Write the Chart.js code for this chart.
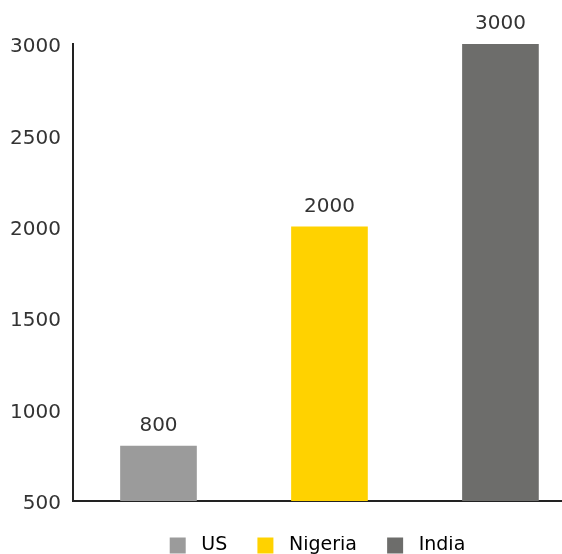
<!DOCTYPE html>
<html>
<head>
<meta charset="utf-8">
<script src="https://cdn.jsdelivr.net/npm/chart.js@4/dist/chart.umd.min.js"></script>
<style>
  html, body { margin: 0; padding: 0; background: #fff; }
  #wrap { width: 562px; height: 554px; }
</style>
</head>
<body>
<div id="wrap"><canvas id="bars"></canvas></div>
<script>
var countries = ["US", "Nigeria", "India"];
var values = [800, 2000, 3000];
var colors = ['#9b9b9b', '#ffd200', '#6d6d6b'];
var yMin = 500, yMax = 3000, yStep = 500;

var FONT = 'DejaVu Sans';

// value labels above the bars
var barLabels = {
    id: 'barLabels',
    afterDatasetsDraw: function(chart) {
        var ctx = chart.ctx;
        ctx.save();
        ctx.font = '20px "' + FONT + '"';
        ctx.fillStyle = '#333';
        ctx.textAlign = 'center';
        ctx.textBaseline = 'bottom';
        chart.data.datasets.forEach(function(ds, i) {
            var bar = chart.getDatasetMeta(i).data[0];
            ctx.fillText(String(ds.data[0].y), bar.x, bar.y - 10);
        });
        ctx.restore();
    }
};

var sets = [];
for (var i = 0; i < countries.length; i++) {
    sets.push({
        label: countries[i],
        data: [{x: i, y: values[i]}],
        backgroundColor: colors[i],
        borderWidth: 0,
        barThickness: 76,
        grouped: false
    });
}

var ctx = document.getElementById('bars').getContext('2d');
var myChart = new Chart(ctx, {
    type: 'bar',
    data: { datasets: sets },
    plugins: [barLabels],
    options: {
        responsive: true,
        maintainAspectRatio: false,
        animation: false,
        layout: { padding: { top: 44, left: 0, right: 0, bottom: -11 } },
        plugins: {
            tooltip: { enabled: false },
            legend: {
                position: 'bottom',
                fullSize: false,
                labels: {
                    boxWidth: 16,
                    boxHeight: 16,
                    padding: 0,
                    color: '#333',
                    font: { family: FONT, size: 19 },
                    generateLabels: function(chart) {
                        var n = chart.data.datasets.length;
                        return chart.data.datasets.map(function(ds, i) {
                            // leading space = gap after the box, trailing = gap to next item
                            return {
                                text: ' ' + ds.label + (i < n - 1 ? '     ' : ''),
                                fillStyle: ds.backgroundColor,
                                strokeStyle: ds.backgroundColor,
                                lineWidth: 0,
                                hidden: false,
                                datasetIndex: i
                            };
                        });
                    }
                }
            }
        },
        scales: {
            x: {
                type: 'linear',
                offset: false,
                min: -0.5,
                max: 2.36,
                grid: { display: false },
                ticks: { display: false },
                border: { display: true, color: '#222', width: 2 },
                afterFit: function(scale) { scale.height = 35; }
            },
            y: {
                min: yMin,
                max: yMax,
                grid: { display: false, drawTicks: false },
                border: { display: true, color: '#222', width: 2 },
                ticks: {
                    stepSize: yStep,
                    padding: 12,
                    labelOffset: 3,
                    color: '#333',
                    font: { family: FONT, size: 20 },
                    callback: function(v) { return String(v); }
                },
                afterFit: function(scale) { scale.width = 73; }
            }
        }
    }
});
</script>
</body>
</html>
